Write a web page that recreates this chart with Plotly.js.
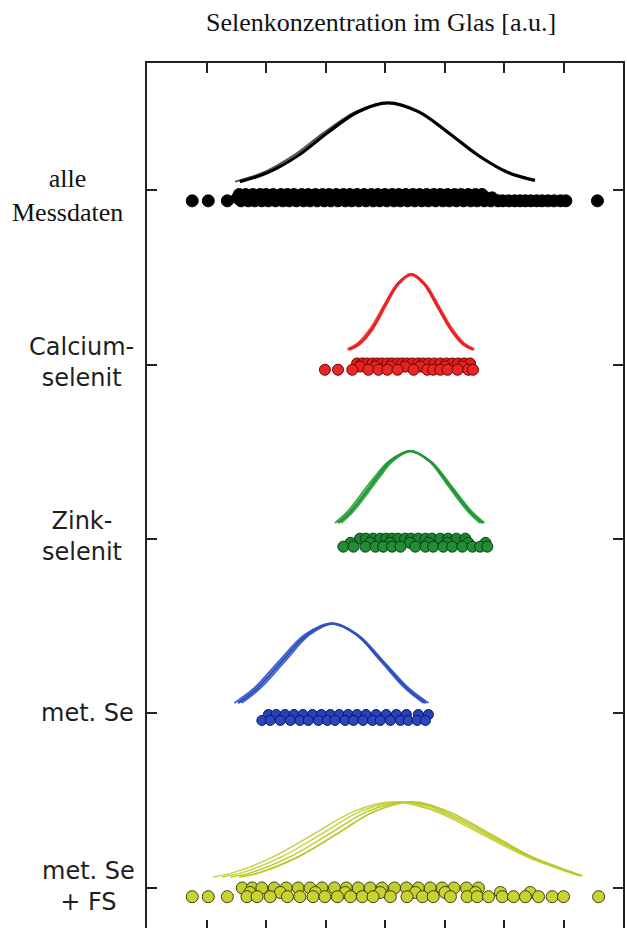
<!DOCTYPE html>
<html>
<head>
<meta charset="utf-8">
<script src="https://cdn.plot.ly/plotly-3.0.1.min.js"></script>
<style>
html,body{margin:0;padding:0;background:#fff;overflow:hidden;}
#chart{width:627px;height:935px;}
</style>
</head>
<body>
<div id="chart"></div>
<script>
// ---- category labels (top to bottom) and their row index ----
const categories = ["alle<br>Messdaten", "Calcium-<br>selenit", "Zink-<br>selenit", "met. Se", "met. Se<br>+ FS"];
const rowIndex = [4, 3, 2, 1, 0];

// ---- fitted distribution curves: x (a.u.) and height above the row ----
const blkA_x = [1.56, 2.03, 2.54, 3.04, 3.55, 4.05, 4.56, 5.06, 5.57, 6.07, 6.52];
const blkB_x = [1.48, 1.95, 2.46, 2.98, 3.51, 4.03, 4.55, 5.05, 5.56, 6.06, 6.50];
const blk_h  = [0.048, 0.100, 0.198, 0.330, 0.449, 0.499, 0.449, 0.330, 0.198, 0.100, 0.055];

const redA_x = [3.40, 3.57, 3.79, 4.00, 4.22, 4.44, 4.66, 4.88, 5.10, 5.31, 5.48];
const redB_x = [3.37, 3.54, 3.76, 3.98, 4.21, 4.44, 4.67, 4.90, 5.12, 5.33, 5.50];
const red_h  = [0.086, 0.119, 0.206, 0.335, 0.462, 0.516, 0.462, 0.335, 0.206, 0.119, 0.086];

const grnA_x = [3.21, 3.42, 3.75, 3.92, 4.09, 4.425, 4.76, 4.93, 5.10, 5.43, 5.64];
const grnB_x = [3.16, 3.37, 3.70, 3.88, 4.06, 4.41, 4.77, 4.95, 5.12, 5.46, 5.67];
const grnC_x = [3.26, 3.46, 3.79, 3.96, 4.12, 4.44, 4.75, 4.91, 5.07, 5.40, 5.60];
const grn_h  = [0.092, 0.156, 0.301, 0.378, 0.444, 0.504, 0.444, 0.378, 0.301, 0.156, 0.092];

const bluA_x = [1.53, 1.85, 2.27, 2.69, 3.11, 3.53, 3.95, 4.37, 4.69];
const bluB_x = [1.47, 1.80, 2.22, 2.65, 3.09, 3.54, 3.97, 4.40, 4.73];
const bluC_x = [1.59, 1.90, 2.32, 2.73, 3.13, 3.52, 3.93, 4.34, 4.65];
const blu_h  = [0.060, 0.144, 0.300, 0.451, 0.516, 0.451, 0.300, 0.144, 0.060];

const ylwA_x = [1.11, 1.45, 2.12, 2.80, 3.47, 4.10, 4.85, 5.62, 6.38, 6.92, 7.26];
const ylwB_x = [1.26, 1.60, 2.26, 2.93, 3.58, 4.22, 4.92, 5.67, 6.41, 6.94, 7.28];
const ylwC_x = [1.41, 1.75, 2.40, 3.06, 3.70, 4.34, 4.99, 5.72, 6.44, 6.96, 7.30];
const ylwD_x = [1.55, 1.89, 2.54, 3.19, 3.82, 4.45, 5.06, 5.77, 6.47, 6.98, 7.32];
const ylw_h  = [0.063, 0.088, 0.178, 0.309, 0.438, 0.493, 0.438, 0.309, 0.178, 0.110, 0.070];

// ---- measured points: x (a.u.) and vertical offset within the row ----
const allUp_x = [1.55,1.66,1.78,1.90,2.00,2.12,2.25,2.36,2.47,2.60,2.71,2.83,2.95,3.06,3.18,3.30,3.41,3.53,3.65,3.77,3.88,4.00,4.12,4.23,4.35,4.47,4.58,4.70,4.82,4.93,5.05,5.17,5.28,5.40,5.52,5.63];
const allMid_x = [1.52,1.60,1.72,1.84,1.95,2.06,2.18,2.30,2.42,2.53,2.65,2.77,2.88,3.00,3.12,3.24,3.35,3.47,3.59,3.70,3.82,3.94,4.06,4.17,4.29,4.41,4.52,4.64,4.76,4.88,4.99,5.11,5.23,5.34,5.46,5.58,5.70,5.80];
const allLow_x = [0.76,1.03,1.35,1.58,1.70,1.81,1.93,2.04,2.16,2.28,2.39,2.51,2.63,2.74,2.86,2.98,3.09,3.21,3.33,3.44,3.56,3.68,3.80,3.91,4.03,4.15,4.26,4.38,4.50,4.62,4.73,4.85,4.97,5.08,5.20,5.32,5.44,5.55,5.67,5.78,5.90,5.98,6.08,6.18,6.27,6.36,6.45,6.55,6.64,6.74,6.84,6.95,7.04,7.57];
const allUp_dy = -0.026, allMid_dy = -0.045, allLow_dy = -0.062;

const redUp_x  = [3.53,3.62,3.70,3.79,3.87,3.95,4.04,4.12,4.21,4.29,4.37,4.46,4.56,4.64,4.73,4.83,4.93,5.03,5.13,5.23,5.33,5.43];
const redMid_x = [3.58,3.84,4.09,4.34,4.59,5.01,5.30];
const redLow_x = [2.99,3.21,3.45,3.72,3.89,4.04,4.21,4.48,4.71,4.81,4.93,5.05,5.22,5.40,5.48];
const redUp_dy = 0.006, redMid_dy = -0.012, redLow_dy = -0.030;

const grnUp_x  = [3.58,3.68,3.80,3.92,4.02,4.12,4.22,4.34,4.44,4.56,4.68,4.79,4.93,5.06,5.20,5.35];
const grnMid_x = [3.42,3.75,4.09,4.42,4.73,5.05,5.40,5.69];
const grnLow_x = [3.30,3.47,3.67,3.84,3.97,4.12,4.26,4.51,4.68,4.81,4.98,5.13,5.30,5.47,5.60,5.72];
const grnUp_dy = 0.002, grnMid_dy = -0.022, grnLow_dy = -0.044;

const bluUp_x  = [2.04,2.17,2.32,2.47,2.62,2.78,2.93,3.08,3.23,3.38,3.53,3.68,3.85,4.02,4.19,4.36,4.56,4.73];
const bluLow_x = [1.93,2.07,2.24,2.41,2.57,2.71,2.88,3.03,3.16,3.33,3.47,3.63,3.79,3.92,4.09,4.26,4.39,4.54,4.68];
const bluUp_dy = -0.006, bluLow_dy = -0.040;

const ylwUp_x  = [1.60,1.77,1.93,2.14,2.34,2.54,2.74,2.94,3.15,3.35,3.55,3.75,3.95,4.16,4.36,4.56,4.76,4.96,5.16,5.37,5.57];
const ylwMid_x = [1.73,2.24,2.83,3.33,3.92,4.51,5.01,5.52,5.94,6.44];
const ylwLow_x = [0.76,1.03,1.35,1.68,1.85,2.07,2.36,2.57,2.79,2.99,3.20,3.42,3.62,3.80,4.09,4.37,4.63,4.81,5.10,5.38,5.55,5.74,5.97,6.16,6.36,6.58,6.81,7.00,7.59];
const ylwUp_dy = 0.000, ylwMid_dy = -0.026, ylwLow_dy = -0.050;

// ---- build traces ----
const traces = [];
function curve(xs, hs, row, color, width) {
  traces.push({type:'scatter', mode:'lines', x:xs, y:hs.map(h => row + h),
    line:{color:color, width:width, shape:'spline', smoothing:1}, hoverinfo:'skip'});
}
function dots(xs, dy, row, fill, edge, size) {
  traces.push({type:'scatter', mode:'markers', x:xs, y:xs.map(() => row + dy),
    marker:{color:fill, size:size, line:{color:edge, width:1}}, hoverinfo:'skip', cliponaxis:false});
}

// alle Messdaten
curve(blkB_x, blk_h, rowIndex[0], '#555', 2);
curve(blkA_x, blk_h, rowIndex[0], '#000', 3.2);
dots(allUp_x, allUp_dy, rowIndex[0], '#000', '#000', 12);
dots(allMid_x, allMid_dy, rowIndex[0], '#000', '#000', 12);
dots(allLow_x, allLow_dy, rowIndex[0], '#000', '#000', 12);

// Calciumselenit
curve(redB_x, red_h, rowIndex[1], 'rgb(245,70,70)', 2.5);
curve(redA_x, red_h, rowIndex[1], 'rgb(235,35,35)', 3);
dots(redUp_x, redUp_dy, rowIndex[1], 'rgb(220,30,30)', 'rgb(120,0,0)', 11);
dots(redMid_x, redMid_dy, rowIndex[1], 'rgb(225,35,35)', 'rgb(120,0,0)', 11);
dots(redLow_x, redLow_dy, rowIndex[1], 'rgb(230,40,40)', 'rgb(120,0,0)', 11);

// Zinkselenit
curve(grnB_x, grn_h, rowIndex[2], 'rgb(60,170,80)', 2);
curve(grnC_x, grn_h, rowIndex[2], 'rgb(60,170,80)', 2);
curve(grnA_x, grn_h, rowIndex[2], 'rgb(35,150,55)', 2.5);
dots(grnUp_x, grnUp_dy, rowIndex[2], 'rgb(30,130,50)', 'rgb(5,60,15)', 11);
dots(grnMid_x, grnMid_dy, rowIndex[2], 'rgb(30,135,50)', 'rgb(5,60,15)', 11);
dots(grnLow_x, grnLow_dy, rowIndex[2], 'rgb(35,140,55)', 'rgb(5,60,15)', 11);

// met. Se
curve(bluB_x, blu_h, rowIndex[3], 'rgb(70,100,205)', 2);
curve(bluC_x, blu_h, rowIndex[3], 'rgb(70,100,205)', 2);
curve(bluA_x, blu_h, rowIndex[3], 'rgb(45,80,195)', 2.5);
dots(bluUp_x, bluUp_dy, rowIndex[3], 'rgb(40,65,185)', 'rgb(10,20,100)', 10);
dots(bluLow_x, bluLow_dy, rowIndex[3], 'rgb(45,70,190)', 'rgb(10,20,100)', 10);

// met. Se + FS
curve(ylwA_x, ylw_h, rowIndex[4], 'rgb(195,210,60)', 1.4);
curve(ylwB_x, ylw_h, rowIndex[4], 'rgb(195,210,60)', 1.4);
curve(ylwC_x, ylw_h, rowIndex[4], 'rgb(185,200,40)', 1.4);
curve(ylwD_x, ylw_h, rowIndex[4], 'rgb(185,200,40)', 1.8);
dots(ylwUp_x, ylwUp_dy, rowIndex[4], 'rgb(195,205,45)', 'rgb(60,65,10)', 12);
dots(ylwMid_x, ylwMid_dy, rowIndex[4], 'rgb(200,210,50)', 'rgb(60,65,10)', 12);
dots(ylwLow_x, ylwLow_dy, rowIndex[4], 'rgb(200,210,50)', 'rgb(60,65,10)', 12);

// ---- category labels as annotations ----
const labelX = [-0.1672, -0.1367, -0.1367, -0.126, -0.122];
const labelDy = [-0.031, 0.011, 0.017, 0.0, 0.011];
const labelFont = [
  {family:'Liberation Serif, Times New Roman, serif', size:26, color:'#111'},
  {family:'DejaVu Sans, sans-serif', size:24, color:'#1e1e1e'},
  {family:'DejaVu Sans, sans-serif', size:24, color:'#1e1e1e'},
  {family:'DejaVu Sans, sans-serif', size:24, color:'#1e1e1e'},
  {family:'DejaVu Sans, sans-serif', size:24, color:'#1e1e1e'}
];
const annotations = categories.map((c, i) => ({
  text:c, xref:'paper', yref:'y', x:labelX[i], y:rowIndex[i] + labelDy[i],
  xanchor:'center', yanchor:'middle', showarrow:false, align:'center', font:labelFont[i]
}));

const axisCommon = {showgrid:false, zeroline:false, showline:true, linecolor:'#222', linewidth:2,
  ticks:'inside', ticklen:10, tickwidth:2, tickcolor:'#222', mirror:'ticks', showticklabels:false, fixedrange:true};

const layout = {
  width:627, height:935,
  margin:{l:147, r:4, t:63, b:5},
  paper_bgcolor:'#fff', plot_bgcolor:'#fff',
  showlegend:false, hovermode:false,
  title:{text:'Selenkonzentration im Glas [a.u.]', x:0.6077, xanchor:'center', y:1 - 22/935, yanchor:'middle',
    font:{family:'Liberation Serif, Times New Roman, serif', size:26, color:'#111'}},
  xaxis:Object.assign({range:[0, 8], tickvals:[1,2,3,4,5,6,7]}, axisCommon),
  yaxis:Object.assign({range:[-0.241, 4.728], tickvals:rowIndex}, axisCommon),
  annotations:annotations
};

Plotly.newPlot('chart', traces, layout, {staticPlot:true, displayModeBar:false});
</script>
</body>
</html>
